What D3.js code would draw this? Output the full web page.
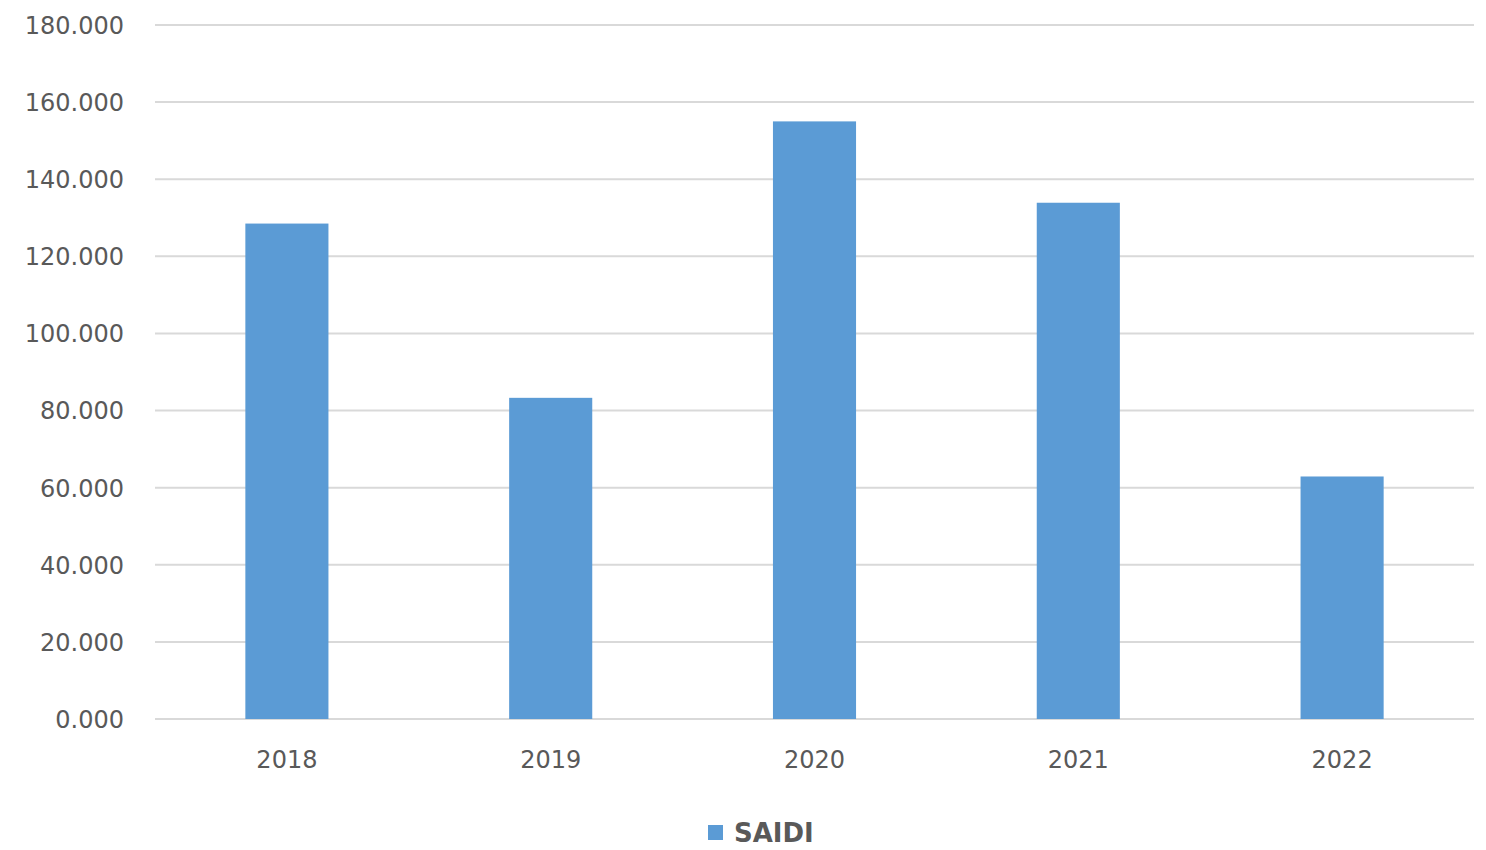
<!DOCTYPE html>
<html><head><meta charset="utf-8">
<script src="https://cdn.jsdelivr.net/npm/d3@7"></script>
<style>body{margin:0;background:#fff}svg{display:block}</style>
</head><body><svg id="c" width="1486" height="850"></svg>
<script>
const categories = ["2018","2019","2020","2021","2022"];
const saidi = [128.5, 83.3, 155.0, 133.9, 62.9];
const yTicks = [0,20,40,60,80,100,120,140,160,180];
const seriesName = "SAIDI";

(function(){
const svg = d3.select("#c");
const mLeft = 155, mRight = 1474, mTop = 25, mBottom = 719;
const x = d3.scaleBand().domain(categories).range([mLeft, mRight]).paddingInner(0.685).paddingOuter(0.3425);
const y = d3.scaleLinear().domain([0,180]).range([mBottom, mTop]);
const font = "'DejaVu Sans', sans-serif";

svg.append("g").selectAll("line").data(yTicks).join("line")
  .attr("x1", mLeft).attr("x2", mRight)
  .attr("y1", d=>y(d)).attr("y2", d=>y(d))
  .attr("stroke", "#d9d9d9").attr("stroke-width", 2);

const yAxis = d3.axisLeft(y).tickValues(yTicks).tickSize(0).tickPadding(0)
  .tickFormat(d=>d3.format(".3f")(d));
const gy = svg.append("g").attr("transform", `translate(${mLeft-31},0)`).call(yAxis);
gy.select(".domain").remove();
gy.selectAll("text").attr("fill","#595959").attr("font-size",24).attr("font-family",font).attr("dy","0.35em");

svg.append("g").selectAll("rect").data(categories).join("rect")
  .attr("x", d=>x(d)).attr("width", x.bandwidth())
  .attr("y", (d,i)=>y(saidi[i])).attr("height", (d,i)=>y(0)-y(saidi[i]))
  .attr("fill", "#5b9bd5");

const xAxis = d3.axisBottom(x).tickSize(0).tickPadding(0);
const gx = svg.append("g").attr("transform", `translate(0,${mBottom+41})`).call(xAxis);
gx.select(".domain").remove();
gx.selectAll("text").attr("fill","#595959").attr("font-size",24).attr("font-family",font).attr("dy","0.35em");

const lg = svg.append("g").attr("transform","translate(708,826)");
lg.append("rect").attr("x",0).attr("y",-1).attr("width",15).attr("height",15).attr("fill","#5b9bd5");
lg.append("text").attr("x",26).attr("y",7).attr("dy","0.35em").attr("font-size",26).attr("font-weight","bold")
  .attr("font-family",font).attr("fill","#595959").text(seriesName);
})();
</script></body></html>
